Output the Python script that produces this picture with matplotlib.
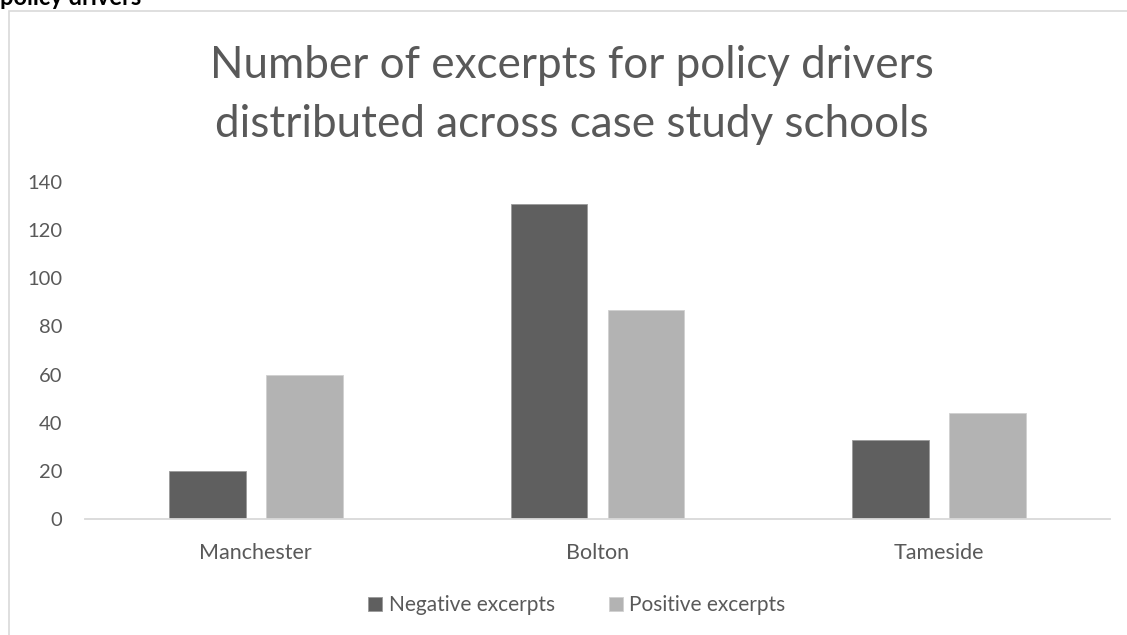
import matplotlib.pyplot as plt
import numpy as np
from matplotlib.patches import Rectangle

schools = ["Manchester", "Bolton", "Tameside"]
negative = [20, 131, 33]
positive = [60, 87, 44]
series_names = ["Negative excerpts", "Positive excerpts"]
yticks = [0, 20, 40, 60, 80, 100, 120, 140]
title_lines = ["Number of excerpts for policy drivers", "distributed across case study schools"]

plt.rcParams['font.family'] = ['Lato', 'DejaVu Sans']
txt = "#595959"
H = 635

fig = plt.figure(figsize=(11.27, 6.35), dpi=100)
ax = fig.add_axes([0.0754, 0.1827, 0.9096, 0.5307])

x = np.arange(len(schools))
w = 0.225
off = 0.142
ax.bar(x - off, negative, w, color="#5f5f5f", edgecolor="#9a9a9a", linewidth=0.6,
       label=series_names[0])
ax.bar(x + off, positive, w, color="#b3b3b3", edgecolor="#d0d0d0", linewidth=0.6,
       label=series_names[1])

ax.set_xlim(-0.5, 2.5)
ax.set_ylim(0, 140)
ax.set_yticks(yticks)
ax.set_xticks(x)
ax.set_xticklabels(schools)
ax.tick_params(axis="both", length=0, colors=txt)
ax.tick_params(axis="y", pad=16.5, labelsize=14.5)
ax.tick_params(axis="x", pad=17, labelsize=15.5)
for s in ["top", "right", "left"]:
    ax.spines[s].set_visible(False)
ax.spines["bottom"].set_color("#d9d9d9")
ax.spines["bottom"].set_linewidth(1.3)

# two-line title, baselines placed separately
for line, base in zip(title_lines, [78, 137]):
    fig.text(572 / 1127, 1 - base / H, line, ha="center", va="baseline",
             fontsize=31.7, color=txt)

leg = fig.legend(loc="center", bbox_to_anchor=(577 / 1127, 1 - 605 / H), ncol=2,
                 frameon=False, fontsize=15, handlelength=0.68, handleheight=0.68,
                 handletextpad=0.3, columnspacing=2.6)
for t in leg.get_texts():
    t.set_color(txt)

# chart area border and cut-off heading above it
fig.patches.append(Rectangle((9 / 1127, -0.1), 1.2, 1 - 11 / H + 0.1,
                             transform=fig.transFigure, fill=False,
                             edgecolor="#d9d9d9", linewidth=1.2))
fig.text(0.0, 1 - 5 / H, "policy drivers", ha="left", va="baseline",
         fontsize=17, fontweight="bold", color="black")

fig.savefig("out.png", dpi=100)
